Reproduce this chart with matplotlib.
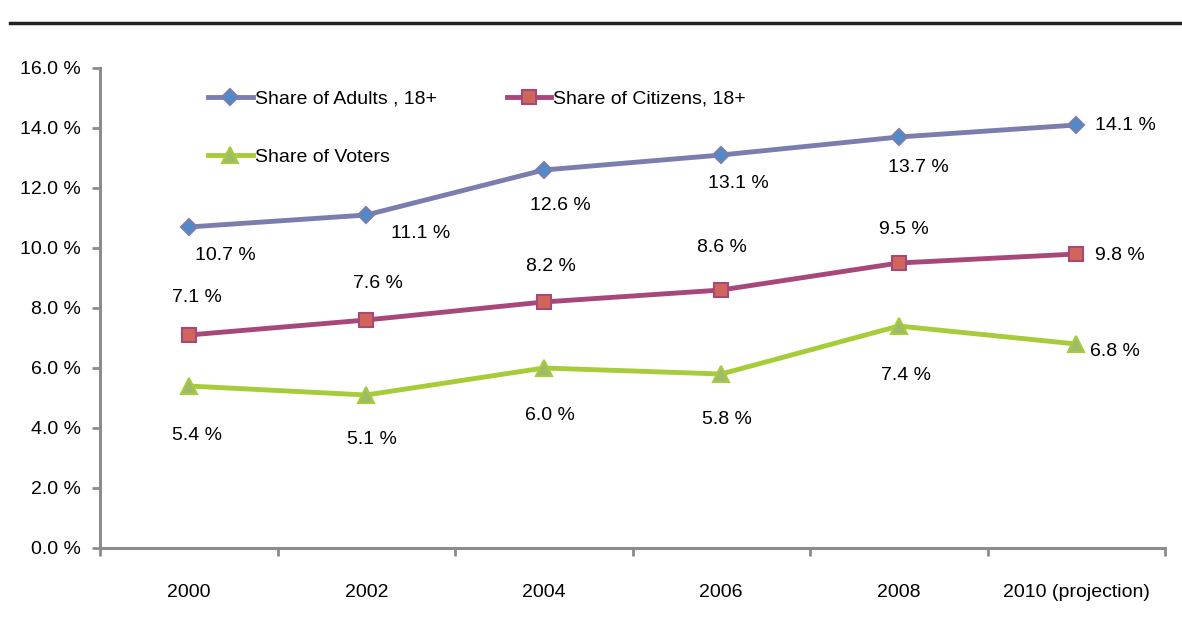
import matplotlib
matplotlib.use("Agg")
import matplotlib.pyplot as plt
from matplotlib.lines import Line2D

years = ["2000", "2002", "2004", "2006", "2008", "2010 (projection)"]
adults = [10.7, 11.1, 12.6, 13.1, 13.7, 14.1]
citizens = [7.1, 7.6, 8.2, 8.6, 9.5, 9.8]
voters = [5.4, 5.1, 6.0, 5.8, 7.4, 6.8]
series_names = ["Share of Adults , 18+", "Share of Citizens, 18+", "Share of Voters"]
yticks = [0, 2, 4, 6, 8, 10, 12, 14, 16]

plt.rcParams["font.family"] = ["Liberation Sans", "DejaVu Sans"]

fig = plt.figure(figsize=(11.82, 6.21), dpi=100)
ax = fig.add_axes([100/1182, 1-548/621, 1065/1182, 480/621])

x = list(range(len(years)))
c_adult_line, c_adult_mk = "#7B7DAE", "#4F8AC9"
c_cit_line, c_cit_mk = "#A8487A", "#D0665A"
c_vot_line, c_vot_mk = "#A6CC3A", "#9DBB6A"

l1, = ax.plot(x, adults, color=c_adult_line, lw=3.5, marker="D", ms=8,
              mfc=c_adult_mk, mec=c_adult_line, mew=1.5, label=series_names[0], zorder=3)
l2, = ax.plot(x, citizens, color=c_cit_line, lw=3.5, marker="s", ms=10,
              mfc=c_cit_mk, mec=c_cit_line, mew=1.5, label=series_names[1], zorder=3)
l3, = ax.plot(x, voters, color=c_vot_line, lw=3.5, marker="^", ms=11,
              mfc=c_vot_mk, mec=c_vot_line, mew=1.5, label=series_names[2], zorder=3)

fs = 14
# data labels (offsets in pixels)
adult_off = [(37, -28), (54, -18), (17, -36), (17, -28), (20, -31), (49, 0)]
cit_off = [(8, 37), (12, 37), (7, 36), (1, 43), (5, 33), (44, -2)]
vot_off = [(8, -49), (6, -44), (6, -48), (6, -45), (7, -50), (39, -8)]
for vals, offs in ((adults, adult_off), (citizens, cit_off), (voters, vot_off)):
    for xi, v, (dx, dy) in zip(x, vals, offs):
        ax.annotate(f"{v:.1f} %", (xi, v), xytext=(dx, dy), textcoords="offset pixels",
                    ha="center", va="center", fontsize=fs, color="black")

ax.set_xlim(-0.5, len(years) - 0.5)
ax.set_ylim(0, 16)
ax.set_yticks(yticks)
ax.set_yticklabels([f"{v:.1f} %" for v in yticks], fontsize=fs)
ax.set_xticks(x)
ax.set_xticklabels(years, fontsize=fs)
ax.set_xticks([i - 0.5 for i in range(len(years) + 1)], minor=True)
ax.tick_params(axis="x", which="major", length=0, pad=26)
ax.tick_params(axis="x", which="minor", length=6, width=2, color="#8C8C8C", direction="out")
ax.tick_params(axis="y", length=6, width=2, color="#8C8C8C", direction="out", pad=8)
for s in ("top", "right"):
    ax.spines[s].set_visible(False)
for s in ("left", "bottom"):
    ax.spines[s].set_color("#8C8C8C")
    ax.spines[s].set_linewidth(2.2)

leg = ax.legend([l1, l3, l2], [series_names[0], series_names[2], series_names[1]],
                loc="upper left", bbox_to_anchor=(108/1065, 1 - 22/480), ncol=2,
                frameon=False, fontsize=fs, handlelength=2.3, handletextpad=0.1,
                columnspacing=3.6, labelspacing=2.1, borderaxespad=0, borderpad=0)

# top rule from the cut-off figure header
fig.add_artist(Line2D([10/1182, 1.0], [1 - 23/621, 1 - 23/621], color="#222222", lw=2.5))

fig.savefig("out.png", dpi=100)
